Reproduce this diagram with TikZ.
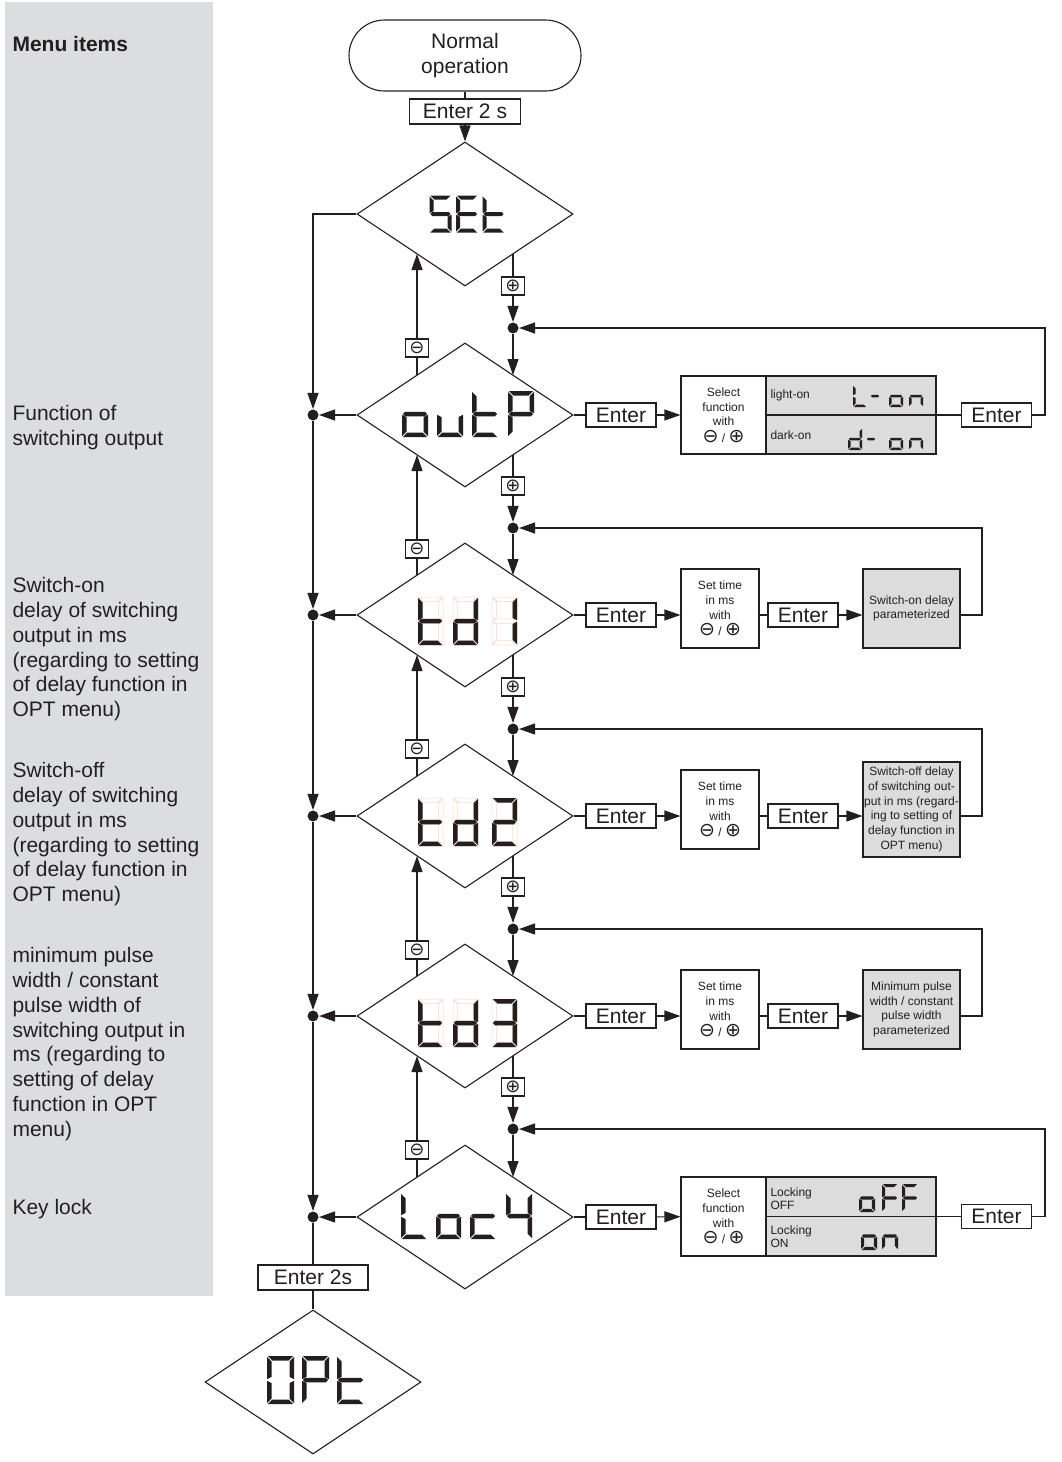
\documentclass[tikz,border=0pt]{standalone}
\usepackage{fontspec}
\setmainfont{Liberation Sans}
\newfontfamily\symf{DejaVu Sans}
\usetikzlibrary{arrows.meta,shapes.geometric,calc}
\definecolor{ink}{RGB}{35,31,32}
\definecolor{panel}{RGB}{220,221,223}
\definecolor{boxgray}{RGB}{220,220,221}
\definecolor{faint}{RGB}{246,214,204}
\newcommand\fs[2]{\fontsize{#1}{#2}\selectfont}
% seven segment pieces (y axis points down)
\newcommand\ssega[1]{\path[#1] (\sS,0) -- (\sW-\sS,0) -- (\sW-\sS-\sT,\sT) -- (\sS+\sT,\sT) -- cycle;}
\newcommand\ssegd[1]{\path[#1] (\sS,\sH) -- (\sW-\sS,\sH) -- (\sW-\sS-\sT,\sH-\sT) -- (\sS+\sT,\sH-\sT) -- cycle;}
\newcommand\ssegf[1]{\path[#1] (0,\sS) -- (\sT,\sS+\sT) -- (\sT,\sH/2-\sT/2-\sS) -- (0,\sH/2-\sS) -- cycle;}
\newcommand\ssegb[1]{\path[#1] (\sW,\sS) -- (\sW-\sT,\sS+\sT) -- (\sW-\sT,\sH/2-\sT/2-\sS) -- (\sW,\sH/2-\sS) -- cycle;}
\newcommand\ssege[1]{\path[#1] (0,\sH/2+\sS) -- (\sT,\sH/2+\sT/2+\sS) -- (\sT,\sH-\sT-\sS) -- (0,\sH-\sS) -- cycle;}
\newcommand\ssegc[1]{\path[#1] (\sW,\sH/2+\sS) -- (\sW-\sT,\sH/2+\sT/2+\sS) -- (\sW-\sT,\sH-\sT-\sS) -- (\sW,\sH-\sS) -- cycle;}
\newcommand\ssegg[1]{\path[#1] (\sS,\sH/2) -- (\sS+\sT/2,\sH/2-\sT/2) -- (\sW-\sS-\sT/2,\sH/2-\sT/2) -- (\sW-\sS,\sH/2) -- (\sW-\sS-\sT/2,\sH/2+\sT/2) -- (\sS+\sT/2,\sH/2+\sT/2) -- cycle;}
\newcommand\ssdig[6]{\begin{scope}[shift={(#1,#2)}]\def\sW{#3}\def\sH{#4}\def\sT{#5}\def\sS{0.8}%
  \foreach \s in {#6}{\csname sseg\s\endcsname{seg}}\end{scope}}
\newcommand\ssdigf[6]{\begin{scope}[shift={(#1,#2)}]\def\sW{#3}\def\sH{#4}\def\sT{#5}\def\sS{0.8}%
  \foreach \s in {a,b,c,d,e,f,g}{\csname sseg\s\endcsname{segf}}%
  \foreach \s in {#6}{\csname sseg\s\endcsname{seg}}\end{scope}}
\newcommand\pmtext{\smash{{\symf\fs{19}{19}⊖} / {\symf\fs{19}{19}⊕}}}
\begin{document}
\begin{tikzpicture}[x=1pt,y=-1pt,line width=1.1pt,color=ink,
  seg/.style={fill=ink,draw=none},
  segf/.style={draw=faint,line width=0.5pt},
  lbl/.style={anchor=north west,inner sep=0pt,font=\fs{21}{24.8},align=left},
  ebox/.style={draw,rectangle,inner sep=0pt,minimum width=70pt,minimum height=24pt,font=\fs{21}{25}},
  dia/.style={draw,diamond,minimum width=216pt,minimum height=144pt,inner sep=0pt},
  dot/.style={circle,fill=ink,inner sep=0pt,minimum size=11pt},
  pm/.style={draw,rectangle,inner sep=0pt,minimum width=23pt,minimum height=18pt,font=\symf\fs{18}{18}},
  arr/.style={-{Triangle[length=16pt,width=11pt]}},
  sbox/.style={draw,rectangle,inner sep=0pt,font=\fs{12}{14.7},align=center},
  gbox/.style={draw,rectangle,fill=boxgray,inner sep=0pt,font=\fs{12}{14.7},align=center},
  small/.style={inner sep=0pt,font=\fs{12}{13},align=left}]
\useasboundingbox (0,0) rectangle (1062,1462);
\fill[white] (0,0) rectangle (1062,1462);
\fill[panel] (5,2) rectangle (213,1296);

% left labels
\node[lbl,font=\bfseries\fs{21}{25}] (hdr) at (12,36) {Menu items};
\node[lbl] (t1) at (12,405) {Function of\\switching output};
\node[lbl] (t2) at (12,577) {Switch-on\\delay of switching\\output in ms\\(regarding to setting\\of delay function in\\OPT menu)};
\node[lbl] (t3) at (12,762) {Switch-off\\delay of switching\\output in ms\\(regarding to setting\\of delay function in\\OPT menu)};
\node[lbl] (t4) at (12,947) {minimum pulse\\width / constant\\pulse width of\\switching output in\\ms (regarding to\\setting of delay\\function in OPT\\menu)};
\node[lbl] (t5) at (12,1199) {Key lock};

% top
\node[draw,rectangle,rounded corners=35.5pt,minimum width=232pt,minimum height=71pt,inner sep=0pt,font=\fs{21}{25},align=center] (normal) at (465,55.5) {Normal\\operation};
\node[ebox,minimum width=111pt,minimum height=25pt] (e2s) at (465,111.5) {Enter 2 s};

% diamonds
\node[dia] (set) at (465,214) {};
\node[dia] (outp) at (465,415) {};
\node[dia] (tda) at (465,615) {};
\node[dia] (tdb) at (465,816) {};
\node[dia] (tdc) at (465,1016) {};
\node[dia] (lock) at (465,1217) {};
\node[dia] (opt) at (313,1382) {};

\draw (normal) -- (e2s);
\draw[arr] (e2s) -- (set);

% right column dots, plus boxes; minus boxes
\node[dot] (R1) at (513,328) {};
\node[dot] (R2) at (513,528) {};
\node[dot] (R3) at (513,729) {};
\node[dot] (R4) at (513,929) {};
\node[dot] (R5) at (513,1129) {};
\node[pm] (P1) at (513,286) {⊕};
\node[pm] (P2) at (513,486) {⊕};
\node[pm] (P3) at (513,687) {⊕};
\node[pm] (P4) at (513,887) {⊕};
\node[pm] (P5) at (513,1087) {⊕};
\node[pm] (M1) at (417,348) {⊖};
\node[pm] (M2) at (417,549) {⊖};
\node[pm] (M3) at (417,749) {⊖};
\node[pm] (M4) at (417,950) {⊖};
\node[pm] (M5) at (417,1150) {⊖};

\foreach \u/\l/\i in {set/outp/1,outp/tda/2,tda/tdb/3,tdb/tdc/4,tdc/lock/5}{
  \draw ($(\u.center)+(48,40)$) -- (P\i);
  \draw[arr] (P\i) -- (R\i);
  \draw[arr] (R\i) -- ($(\l.center)+(48,-40)$);
  \draw ($(\l.center)+(-48,-40)$) -- (M\i);
  \draw[arr] (M\i) -- ($(\u.center)+(-48,40)$);
}

% left column
\node[dot] (L1) at (313,415) {};
\node[dot] (L2) at (313,615) {};
\node[dot] (L3) at (313,816) {};
\node[dot] (L4) at (313,1016) {};
\node[dot] (L5) at (313,1217) {};
\node[ebox,minimum width=110pt,minimum height=25pt] (e2sb) at (313,1277.5) {Enter 2s};
\draw[arr] (set.west) -| (L1);
\draw[arr] (outp.west) -- (L1);
\draw[arr] (tda.west) -- (L2);
\draw[arr] (tdb.west) -- (L3);
\draw[arr] (tdc.west) -- (L4);
\draw[arr] (lock.west) -- (L5);
\draw[arr] (L1) -- (L2);
\draw[arr] (L2) -- (L3);
\draw[arr] (L3) -- (L4);
\draw[arr] (L4) -- (L5);
\draw (L5) -- (e2sb);
\draw (e2sb) -- (opt);

% row outP
\node[ebox] (en1) at (621,415) {Enter};
\node[sbox,minimum width=85pt,minimum height=78pt] (sel1) at (723.5,415) {Select\\function\\with\\[2pt]\pmtext};
\node[draw,fill=boxgray,inner sep=0pt,minimum width=170pt,minimum height=78pt] (op1) at (851,415) {};
\draw (op1.west) -- (op1.east);
\node[small,anchor=west] (lon) at (770,395) {light-on};
\node[small,anchor=west] (don) at (770,435) {dark-on};
\node[ebox] (en1b) at (996.5,415) {Enter};
\coordinate (k1) at (1045,415);
\draw (outp.east) -- (en1);
\draw[arr] (en1) -- (sel1);
\draw (op1.east) -- (en1b);
\draw[arr] (en1b) -- (k1) |- (R1);

% row td1
\node[ebox] (en2) at (621,615) {Enter};
\node[sbox,minimum width=78pt,minimum height=79pt] (st2) at (720,608.5) {Set time\\in ms\\with\\[2pt]\pmtext};
\node[ebox] (en2b) at (803,615) {Enter};
\node[gbox,minimum width=97pt,minimum height=79pt] (g2) at (911.5,608.5) {Switch-on delay\\parameterized};
\coordinate (k2) at (982,615);
\draw (tda.east) -- (en2);
\draw[arr] (en2.east) -- (en2.east -| st2.west);
\draw (en2b.west -| st2.east) -- (en2b.west);
\draw[arr] (en2b.east) -- (en2b.east -| g2.west);
\draw[arr] (en2b.east -| g2.east) -- (k2) |- (R2);

% row td2
\node[ebox] (en3) at (621,816) {Enter};
\node[sbox,minimum width=78pt,minimum height=79pt] (st3) at (720,809.5) {Set time\\in ms\\with\\[2pt]\pmtext};
\node[ebox] (en3b) at (803,816) {Enter};
\node[gbox,minimum width=97pt,minimum height=95pt] (g3) at (911.5,809.5) {Switch-off delay\\of switching out-\\put in ms (regard-\\ing to setting of\\delay function in\\OPT menu)};
\coordinate (k3) at (982,816);
\draw (tdb.east) -- (en3);
\draw[arr] (en3.east) -- (en3.east -| st3.west);
\draw (en3b.west -| st3.east) -- (en3b.west);
\draw[arr] (en3b.east) -- (en3b.east -| g3.west);
\draw[arr] (en3b.east -| g3.east) -- (k3) |- (R3);

% row td3
\node[ebox] (en4) at (621,1016) {Enter};
\node[sbox,minimum width=78pt,minimum height=79pt] (st4) at (720,1009.5) {Set time\\in ms\\with\\[2pt]\pmtext};
\node[ebox] (en4b) at (803,1016) {Enter};
\node[gbox,minimum width=97pt,minimum height=79pt] (g4) at (911.5,1009.5) {Minimum pulse\\width / constant\\pulse width\\parameterized};
\coordinate (k4) at (982,1016);
\draw (tdc.east) -- (en4);
\draw[arr] (en4.east) -- (en4.east -| st4.west);
\draw (en4b.west -| st4.east) -- (en4b.west);
\draw[arr] (en4b.east) -- (en4b.east -| g4.west);
\draw[arr] (en4b.east -| g4.east) -- (k4) |- (R4);

% row LocK
\node[ebox] (en5) at (621,1217) {Enter};
\node[sbox,minimum width=85pt,minimum height=79pt] (sel5) at (723.5,1216.5) {Select\\function\\with\\[2pt]\pmtext};
\node[draw,fill=boxgray,inner sep=0pt,minimum width=170pt,minimum height=79pt] (op5) at (851,1216.5) {};
\draw (op5.west) -- (op5.east);
\node[small,anchor=west] (loff) at (770,1198.5) {Locking\\OFF};
\node[small,anchor=west] (lonn) at (770,1236.5) {Locking\\ON};
\node[ebox] (en5b) at (996.5,1216.5) {Enter};
\coordinate (k5) at (1045,1216.5);
\draw (lock.east) -- (en5);
\draw[arr] (en5) -- (sel5);
\draw (op5.east) -- (en5b);
\draw[arr] (en5b) -- (k5) |- (R5);

% seven segment displays
% SEt
\ssdig{429.5}{195.5}{22}{37}{4}{a,f,g,c,d}
\ssdig{456}{195.5}{22}{37}{4}{a,f,g,e,d}
\ssdig{482.5}{195.5}{22}{37}{4}{f,e,g,d}
% outP
\ssdig{402}{391}{26}{46}{4.5}{g,e,d,c}
\ssdig{437}{391}{26}{46}{4.5}{e,d,c}
\ssdig{472}{391}{26}{46}{4.5}{f,e,g,d}
\ssdig{508}{391}{26}{46}{4.5}{a,b,f,g,e}
% td1
\ssdigf{418}{597}{25}{48}{4.5}{f,e,g,d}
\ssdigf{453}{597}{25}{48}{4.5}{b,c,d,e,g}
\ssdigf{492}{597}{25}{48}{4.5}{b,c}
% td2
\ssdigf{418}{798}{25}{48}{4.5}{f,e,g,d}
\ssdigf{453}{798}{25}{48}{4.5}{b,c,d,e,g}
\ssdigf{492}{798}{25}{48}{4.5}{a,b,g,e,d}
% td3
\ssdigf{418}{999}{25}{48}{4.5}{f,e,g,d}
\ssdigf{453}{999}{25}{48}{4.5}{b,c,d,e,g}
\ssdigf{492}{999}{25}{48}{4.5}{a,b,g,c,d}
% LocK
\ssdig{401}{1193}{26}{46}{4.5}{f,e,d}
\ssdig{436}{1193}{25}{46}{4.5}{g,e,d,c}
\ssdig{470}{1193}{26}{46}{4.5}{g,e,d}
\ssdig{506}{1193}{26}{46}{4.5}{f,b,g,c}
% OPt
\ssdig{267}{1356}{27}{48}{4.5}{a,b,c,d,e,f}
\ssdig{302}{1356}{27}{48}{4.5}{a,b,f,g,e}
\ssdig{337}{1356}{27}{48}{4.5}{f,e,g,d}
% L-on / d-on
\ssdig{853}{385}{14}{22}{2.5}{f,e,d}
\ssdig{870}{385}{10}{22}{2.5}{g}
\ssdig{889}{385}{14}{22}{2.5}{g,e,d,c}
\ssdig{909}{385}{14}{22}{2.5}{g,e,c}
\ssdig{848}{428}{14}{22}{2.5}{b,c,d,e,g}
\ssdig{866}{428}{10}{22}{2.5}{g}
\ssdig{889}{428}{14}{22}{2.5}{g,e,d,c}
\ssdig{909}{428}{14}{22}{2.5}{g,e,c}
% oFF / on
\ssdig{859}{1184}{16}{28}{3.2}{g,e,d,c}
\ssdig{882}{1184}{16}{28}{3.2}{a,f,g,e}
\ssdig{902}{1184}{16}{28}{3.2}{a,f,g,e}
\ssdig{861}{1222}{16}{28}{3.2}{g,e,d,c}
\ssdig{882}{1222}{16}{28}{3.2}{g,e,c}
\end{tikzpicture}
\end{document}
